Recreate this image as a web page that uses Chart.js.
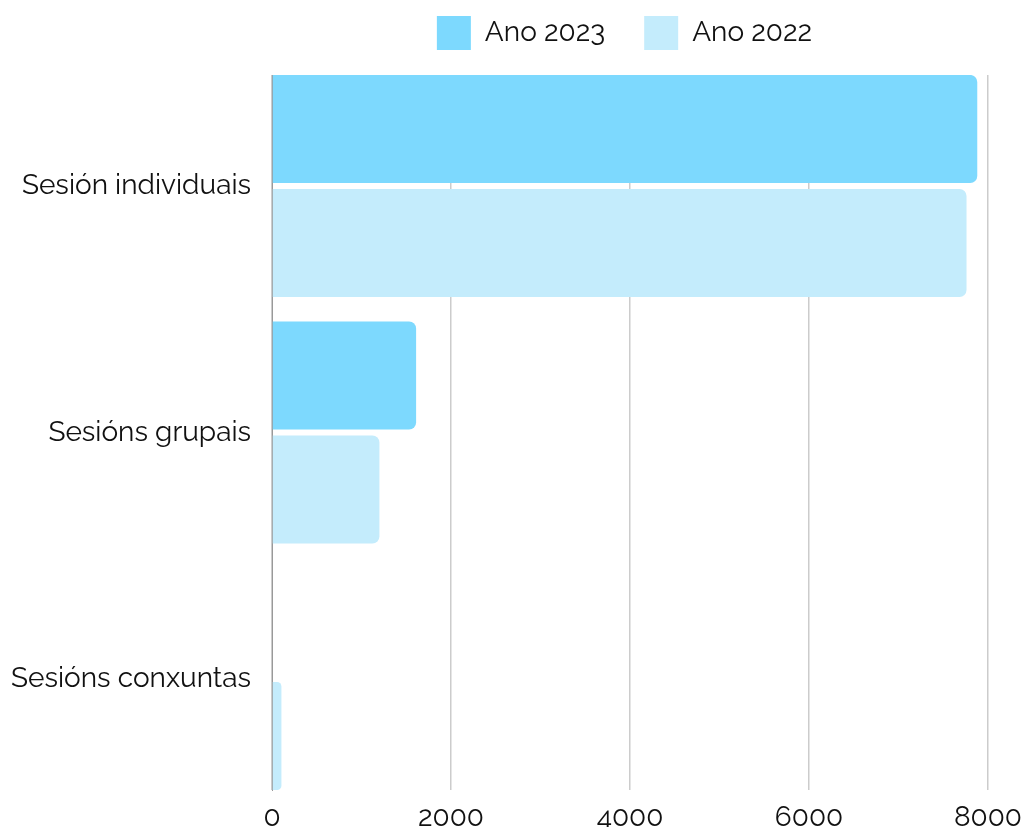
<!DOCTYPE html>
<html>
<head>
<meta charset="utf-8">
<script src="https://cdn.jsdelivr.net/npm/chart.js@4"></script>
<style>
  html, body { margin: 0; padding: 0; background: #fff; }
  #wrap { width: 1023px; height: 827px; position: relative; }
</style>
</head>
<body>
<div id="wrap"><canvas id="myChart"></canvas></div>
<script>
'use strict';
// data
const categorias = ['Sesión individuais', 'Sesións grupais', 'Sesións conxuntas'];
const serieNomes = ['Ano 2023', 'Ano 2022'];
const datos2023 = [7880, 1610, 0];
const datos2022 = [7760, 1200, 105];
const ticksX = [0, 2000, 4000, 6000, 8000];

const cores = ['#7dd9fe', '#c4ecfc'];
const corTexto = '#111';
const fonte = { family: 'Raleway, Lato, "Open Sans", sans-serif', size: 28, lineHeight: 1 };

// category index -> point, so the bars sit on a numeric y scale
const aPuntos = valores => valores.map((v, i) => ({ x: v, y: i }));

// legend: centred over the plot area and with more room below it
const legendaAxuste = {
    id: 'legendaAxuste',
    beforeLayout(chart) {
        const lg = chart.legend;
        if (lg && !lg._axustada) {
            const fitOrig = lg.fit.bind(lg);
            lg.fit = function() {
                fitOrig();
                this.height += 15;
            };
            lg._axustada = true;
        }
    },
    afterLayout(chart) {
        chart.legend.left = chart.chartArea.left - 11;
        chart.legend.right = chart.chartArea.right;
    }
};

const ctx = document.getElementById('myChart');
const myChart = new Chart(ctx.getContext('2d'), {
    type: 'bar',
    data: {
        datasets: [{
            label: serieNomes[0],
            data: aPuntos(datos2023),
            backgroundColor: cores[0],
            borderRadius: 7,
            categoryPercentage: 0.925,
            barPercentage: 0.947
        }, {
            label: serieNomes[1],
            data: aPuntos(datos2022),
            backgroundColor: cores[1],
            borderRadius: 7,
            categoryPercentage: 0.925,
            barPercentage: 0.947
        }]
    },
    plugins: [legendaAxuste],
    options: {
        indexAxis: 'y',
        responsive: true,
        maintainAspectRatio: false,
        animation: false,
        layout: { padding: { left: -10, right: 35, top: -23, bottom: -19 } },
        plugins: {
            legend: {
                position: 'top',
                labels: {
                    boxWidth: 34,
                    boxHeight: 34,
                    padding: 39,
                    color: corTexto,
                    font: fonte
                }
            },
            tooltip: { enabled: false }
        },
        scales: {
            x: {
                min: 0,
                max: 8000,
                afterBuildTicks: axis => {
                    axis.ticks = ticksX.map(v => ({ value: v }));
                },
                afterFit: axis => {
                    axis.paddingRight = 0;
                },
                grid: { color: '#cccccc', lineWidth: 1.5, drawTicks: false },
                border: { display: false },
                ticks: { color: corTexto, font: fonte, padding: 14, callback: v => String(v) }
            },
            y: {
                type: 'linear',
                reverse: true,
                offset: false,
                min: -0.45,
                max: categorias.length - 0.55,
                afterBuildTicks: axis => {
                    axis.ticks = categorias.map((c, i) => ({ value: i }));
                },
                grid: { display: false, drawTicks: false },
                border: { display: true, color: '#999999', width: 1 },
                ticks: { color: corTexto, font: fonte, padding: 21, callback: v => categorias[v] }
            }
        }
    }
});
</script>
</body>
</html>
